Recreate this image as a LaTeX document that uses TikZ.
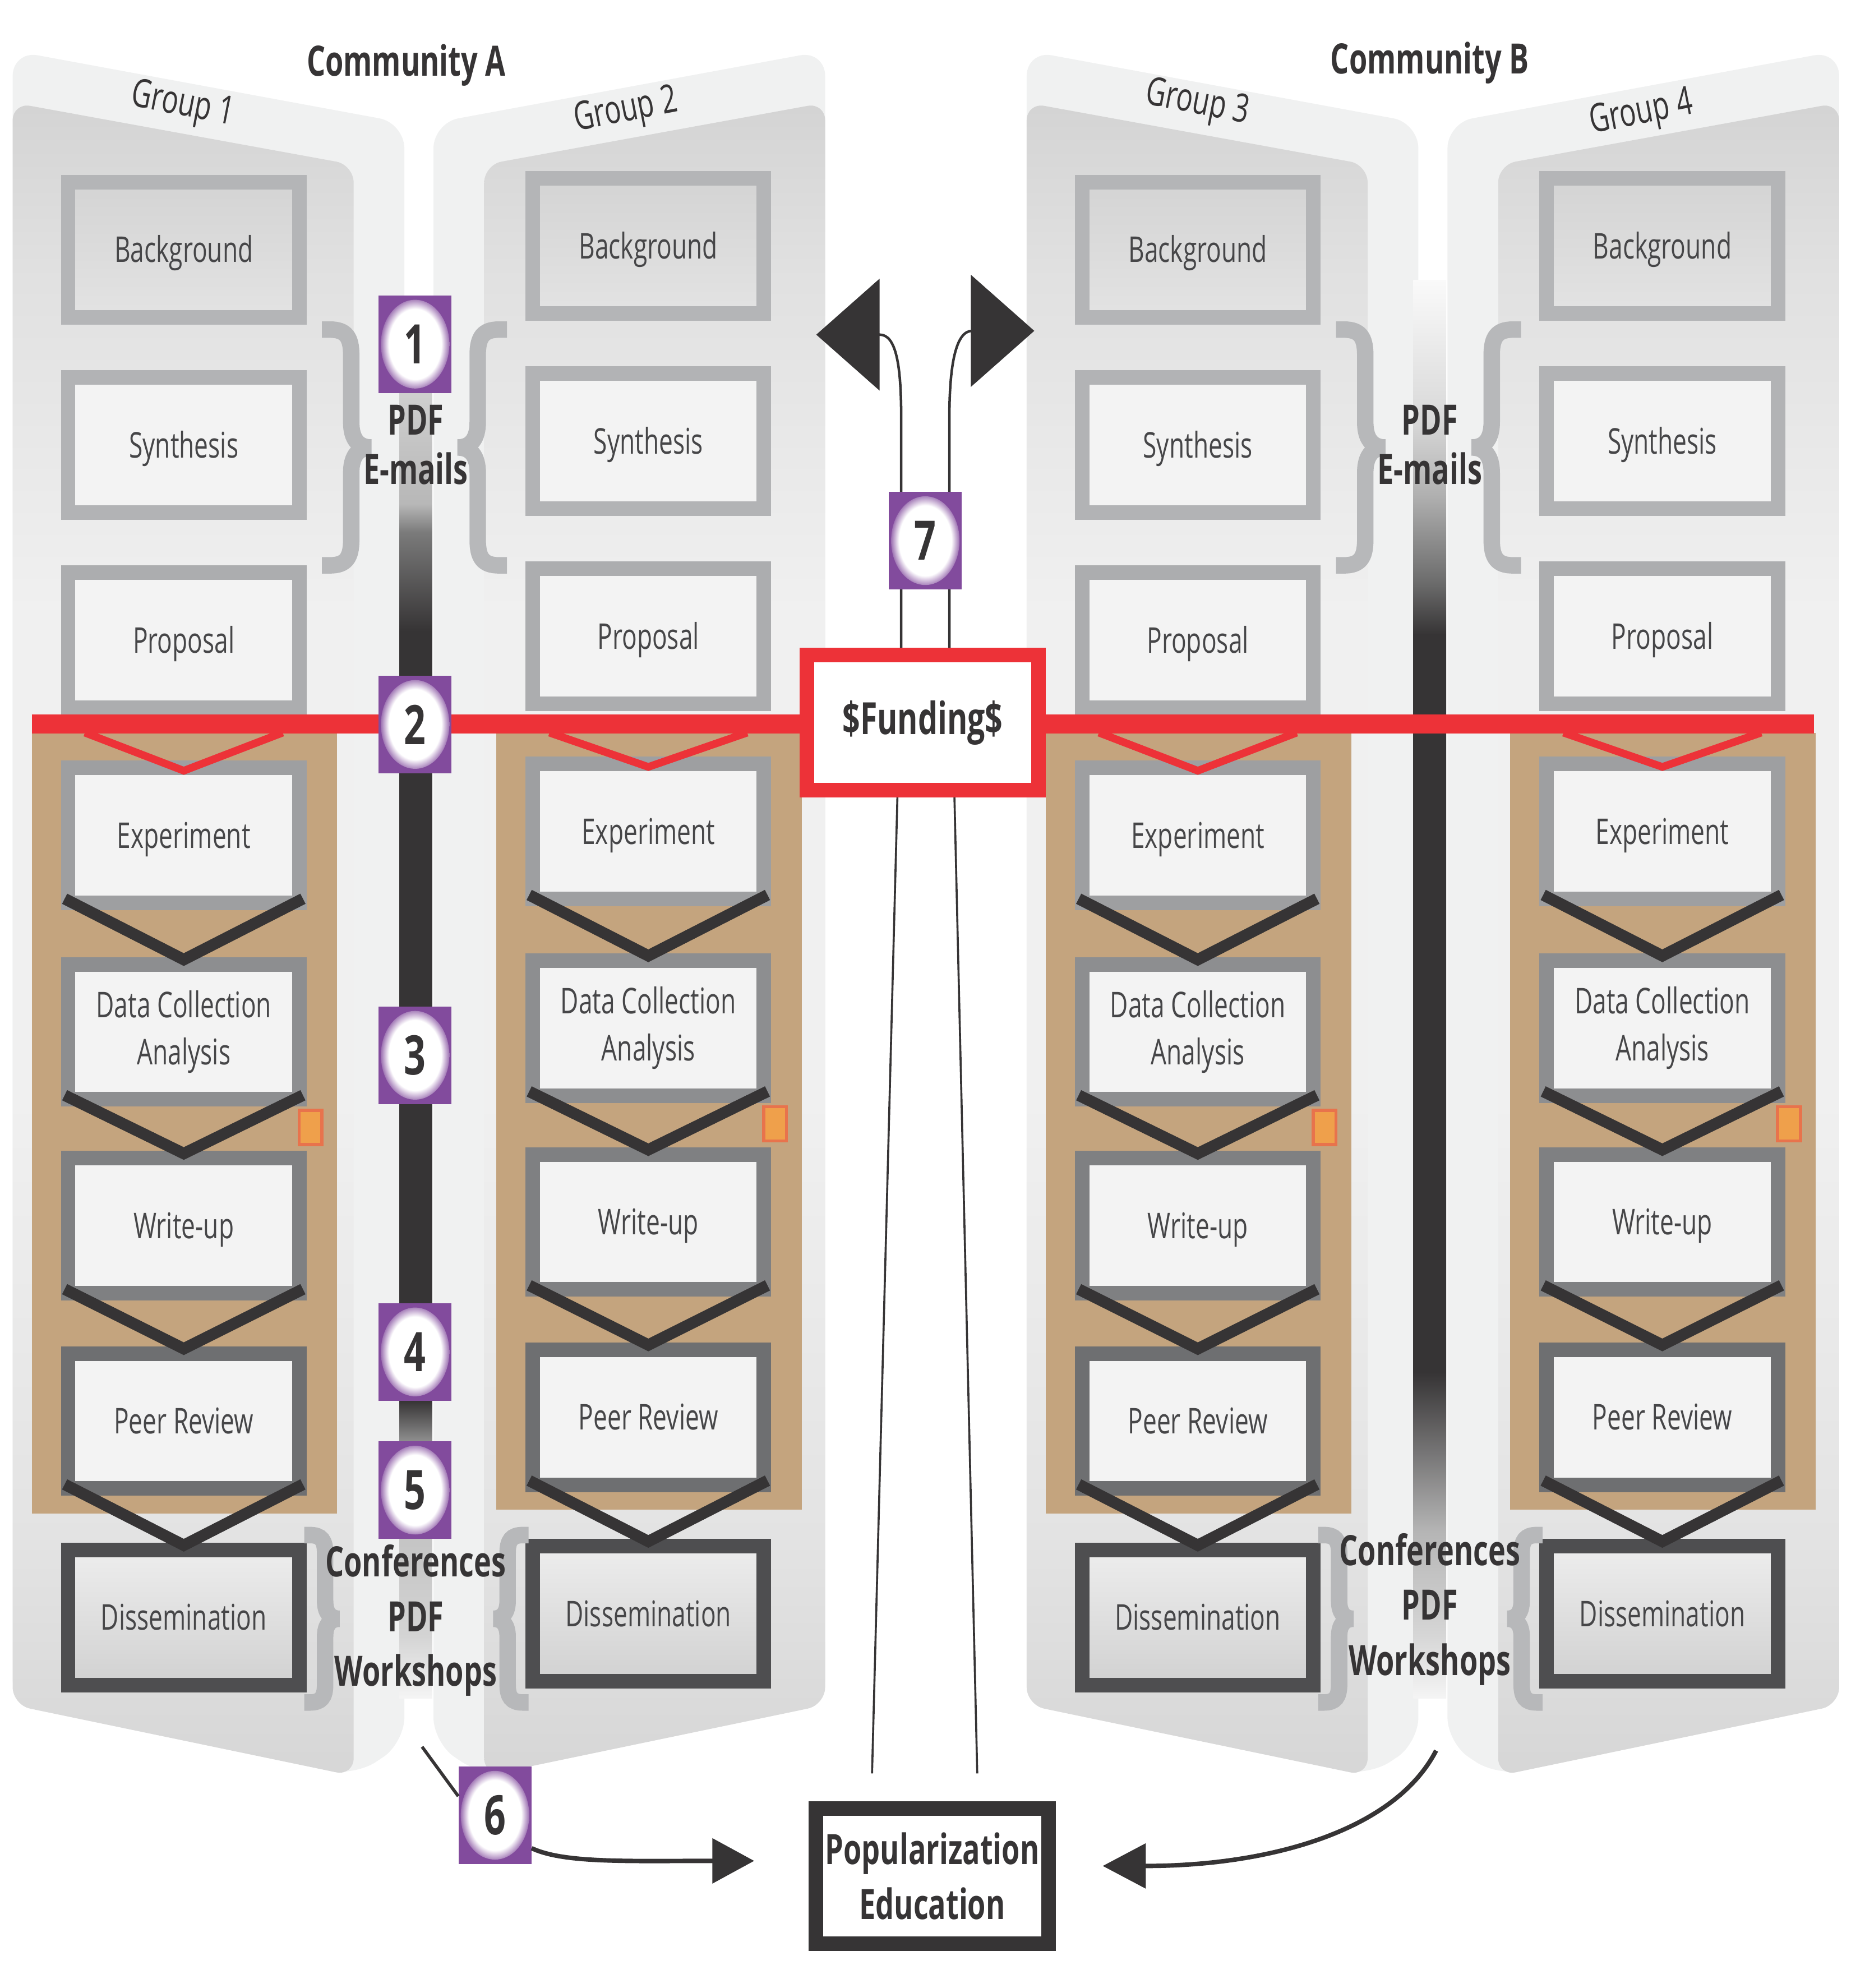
\documentclass[tikz,border=0pt]{standalone}
\usepackage{fontspec}
\setmainfont[FakeStretch=0.7]{Open Sans}
\usetikzlibrary{arrows.meta}
\definecolor{purp}{RGB}{130,75,157}
\definecolor{redl}{RGB}{237,50,56}
\definecolor{tanc}{RGB}{196,164,126}
\definecolor{dk}{RGB}{54,52,53}
\definecolor{txt}{RGB}{70,70,72}
\definecolor{bdA}{RGB}{180,181,183}
\definecolor{bdB}{RGB}{178,179,181}
\definecolor{bdC}{RGB}{172,173,175}
\definecolor{bdD}{RGB}{158,159,161}
\definecolor{bdE}{RGB}{141,142,144}
\definecolor{bdF}{RGB}{127,128,130}
\definecolor{bdG}{RGB}{110,111,113}
\definecolor{bdH}{RGB}{78,78,80}
\definecolor{boxfill}{RGB}{243,243,243}
\definecolor{backc}{RGB}{240,241,241}
\definecolor{orangef}{RGB}{239,160,75}
\definecolor{oranged}{RGB}{232,115,76}
\definecolor{bracec}{RGB}{183,184,186}
\pgfdeclareverticalshading{spineA}{100bp}{color(0bp)=(black!4); color(25bp)=(black!4); color(27.4bp)=(black!17); color(31.06bp)=(black!23); color(34.76bp)=(black!44); color(36.3bp)=(dk); color(65.48bp)=(dk); color(69.23bp)=(black!52); color(70.3bp)=(black!28); color(75bp)=(black!18); color(100bp)=(black!18)}
\pgfdeclareverticalshading{spineB}{100bp}{color(0bp)=(black!4); color(25bp)=(black!4); color(27.2bp)=(black!16); color(30.9bp)=(black!29); color(36.5bp)=(dk); color(62.5bp)=(dk); color(64.3bp)=(black!58); color(67.4bp)=(black!31); color(70.1bp)=(black!15); color(75bp)=(black!2); color(100bp)=(black!2)}
\pgfdeclareverticalshading{pface}{100bp}{color(0bp)=(black!16); color(25bp)=(black!16); color(32bp)=(black!11); color(45bp)=(black!6); color(60bp)=(black!6); color(70bp)=(black!12); color(75bp)=(black!17); color(100bp)=(black!17)}
\pgfdeclareradialshading{glow}{\pgfpoint{0bp}{0bp}}{color(0bp)=(white); color(18bp)=(white); color(25bp)=(purp); color(50bp)=(purp)}

\newcommand\panelshape{%
  \fill[backc, rounded corners=20pt] (10,1345) -- (10,40) -- (319,97) -- (319,1375) -- (280,1401) -- cycle;
  \shade[shading=pface, rounded corners=14pt] (10,1345) -- (10,81) -- (279,130) -- (279,1401) -- cycle;
}
\newcommand\bracesym[4]{\begin{scope}[shift={(#1,#2)},xscale=#4/40,yscale=#3/100]
\draw[bracest] (0,-93) -- (6,-93) .. controls (18,-93) and (22,-87) .. (22,-73) -- (22,-20) .. controls (22,-7) and (27,0) .. (37,0) .. controls (27,0) and (22,7) .. (22,20) -- (22,73) .. controls (22,87) and (18,93) .. (6,93) -- (0,93);
\end{scope}}
\newcommand\drawgroup[3]{%
  \fill[tanc] (#2-120,578) rectangle (#2+121,1194+#3);
  \node[gbox=bdA, top color=black!17, bottom color=black!11] (#1bg) at (#2,197+#3) {Background};
  \node[gbox=bdB] (#1syn) at (#2,351+#3) {Synthesis};
  \node[gbox=bdC] (#1prop) at (#2,505+#3) {Proposal};
  \node[gbox=bdD] (#1exp) at (#2,659+#3) {Experiment};
  \node[gbox=bdE, text height={}, text depth={}] (#1data) at (#2,814+#3) {Data Collection\\Analysis};
  \node[gbox=bdF] (#1wu) at (#2,967+#3) {Write-up};
  \node[gbox=bdG] (#1peer) at (#2,1121+#3) {Peer Review};
  \node[gbox=bdH, top color=black!7, bottom color=black!18] (#1dis) at (#2,1276+#3) {Dissemination};
  \foreach \a/\b in {exp/data, data/wu, wu/peer, peer/dis} {
    \draw[chev] ([shift={(3pt,9pt)}]#1\a.south west) -- ([yshift=-2pt]#1\b.north) -- ([shift={(-3pt,9pt)}]#1\a.south east);
  }
  \draw[redv] (#2-78,578) -- ([yshift=-8pt]#1exp.north) -- (#2+78,578);
  \draw[orangeb] (#2+91,876+#3) rectangle (#2+109,903+#3);
}

\begin{document}
\begin{tikzpicture}[x=1pt,y=-1pt,
  gbox/.style={draw=#1, line width=11.5pt, fill=boxfill, minimum width=182.5pt, minimum height=106.5pt, inner sep=0pt, font=\fontsize{28}{37}\selectfont, text=txt, align=center, text height=26pt, text depth=6pt},
  chev/.style={draw=dk, line width=9pt},
  redv/.style={draw=redl, line width=6pt},
  orangeb/.style={fill=orangef, draw=oranged, line width=2.5pt},
  badge/.style={fill=purp, minimum width=57.5pt, minimum height=77pt, inner sep=0pt, font=\fontsize{43}{43}\selectfont\bfseries, text=dk,
    path picture={\shade[shading=glow] (path picture bounding box.center) ellipse [x radius=27pt, y radius=35pt];}},
  boldlbl/.style={font=\fontsize{33}{43}\selectfont\bfseries, text=dk, anchor=base, inner sep=0pt},
  grouplbl/.style={font=\fontsize{31}{31}\selectfont, text=dk, inner sep=0pt},
  bracest/.style={draw=bracec, line width=13pt},
  thinln/.style={draw=dk, line width=2pt},
  fundbox/.style={draw=redl, line width=11.5pt, fill=white, minimum width=182.5pt, minimum height=106.5pt, inner sep=0pt, font=\fontsize{35}{35}\selectfont\bfseries, text=dk},
  popbox/.style={draw=dk, line width=11.5pt, fill=white, minimum width=183.5pt, minimum height=106.5pt, inner sep=0pt, font=\fontsize{33}{43}\selectfont\bfseries, text=dk, align=center}
  ]
\fill[white] (0,0) rectangle (1460,1568.3);
\useasboundingbox (0,0) rectangle (1460,1568.3);

% panels
\panelshape
\begin{scope}[shift={(661,0)},xscale=-1]\panelshape\end{scope}
\begin{scope}[shift={(800,0)}]\panelshape\end{scope}
\begin{scope}[shift={(1461,0)},xscale=-1]\panelshape\end{scope}

% titles
\node[grouplbl, rotate=-11] (lg1) at (144,83.5) {Group 1};
\node[grouplbl, rotate=11] (lg2) at (494,88) {Group\hspace{6pt}2};
\node[grouplbl, rotate=-11] (lg3) at (944.5,82) {Group 3};
\node[grouplbl, rotate=11] (lg4) at (1295,90) {Group\hspace{6pt}4};
\node[boldlbl] (comA) at (320.5,60) {Community A};
\node[boldlbl] (comB) at (1128,58) {Community B};

% spines
\shade[shading=spineA] (315,300) rectangle (341,1340);
\shade[shading=spineB] (1115,221) rectangle (1141,1340);

% groups
\drawgroup{g1}{145}{0}
\drawgroup{g2}{511.5}{-3}
\drawgroup{g3}{945}{0}
\drawgroup{g4}{1311.5}{-3}

% red funding line
\coordinate (redL) at (25,571);
\coordinate (redR) at (1431,571);
\draw[redl, line width=15pt] (redL) -- (redR);

% braces
\bracesym{254}{353}{100}{42}
\bracesym{400}{353}{100}{-42}
\bracesym{1054}{353}{100}{42}
\bracesym{1200}{353}{100}{-42}
\bracesym{240}{1277}{71}{30}
\bracesym{417}{1277}{71}{-30}
\bracesym{1040}{1277}{71}{30}
\bracesym{1217}{1277}{71}{-30}

% funding and lines
\node[fundbox] (fund) at (728,570) {\$Funding\$};
\coordinate (tipL) at (644,264);
\coordinate (tipR) at (816,261);
\draw[thinln, -{Triangle[length=50pt,width=88pt]}] ([xshift=-17pt]fund.north) -- (711,330) .. controls (711,288) and (707,264) .. (694,264) -- (tipL);
\draw[thinln, -{Triangle[length=50pt,width=88pt]}] ([xshift=21pt]fund.north) -- (749,330) .. controls (749,288) and (754,261) .. (767,261) -- (tipR);

\node[popbox] (pop) at (735.5,1480) {Popularization\\Education};
\coordinate (fL) at ([shift={(-47.5pt,22pt)}]pop.north);
\coordinate (fR) at ([shift={(35.5pt,22pt)}]pop.north);
\draw[draw=dk, line width=1.6pt] ([xshift=-20pt]fund.south) -- (fL);
\draw[draw=dk, line width=1.6pt] ([xshift=25pt]fund.south) -- (fR);

% badges
\node[badge] (b1) at (327.5,271.5) {1};
\node[badge] (b2) at (327.5,571.5) {2};
\node[badge] (b3) at (327.5,832.5) {3};
\node[badge] (b4) at (327.5,1066.5) {4};
\node[badge] (b5) at (327.5,1175.5) {5};
\node[badge] (b6) at (390.5,1432) {6};
\node[badge] (b7) at (730,426.5) {7};

% arrows to popularization
\coordinate (s6) at (333,1378);
\draw[draw=dk, line width=2.5pt] (s6) -- ([yshift=15pt]b6.west);
\draw[draw=dk, line width=3.5pt, -{Triangle[length=33pt,width=35pt]}] ([yshift=-26pt]b6.east) .. controls (445,1470) and (495,1468) .. (562,1468) -- ([shift={(-43pt,12pt)}]pop.west);
\coordinate (sB) at (1133,1381);
\draw[draw=dk, line width=3.5pt, -{Triangle[length=34pt,width=35pt]}] (sB) .. controls (1100,1445) and (1000,1472) .. (904,1472) -- ([shift={(37pt,8pt)}]pop.east);

% bold labels
\node[boldlbl] (pdfA) at (328,343) {PDF};
\node[boldlbl] (mailA) at (328,382) {E-mails};
\node[boldlbl] (pdfB) at (1128,343) {PDF};
\node[boldlbl] (mailB) at (1128,382) {E-mails};
\node[boldlbl] (confA) at (328,1244) {Conferences};
\node[boldlbl] (pdfA2) at (328,1287) {PDF};
\node[boldlbl] (wsA) at (328,1330) {Workshops};
\node[boldlbl] (confB) at (1128,1235) {Conferences};
\node[boldlbl] (pdfB2) at (1128,1278) {PDF};
\node[boldlbl] (wsB) at (1128,1321.5) {Workshops};
\end{tikzpicture}
\end{document}
